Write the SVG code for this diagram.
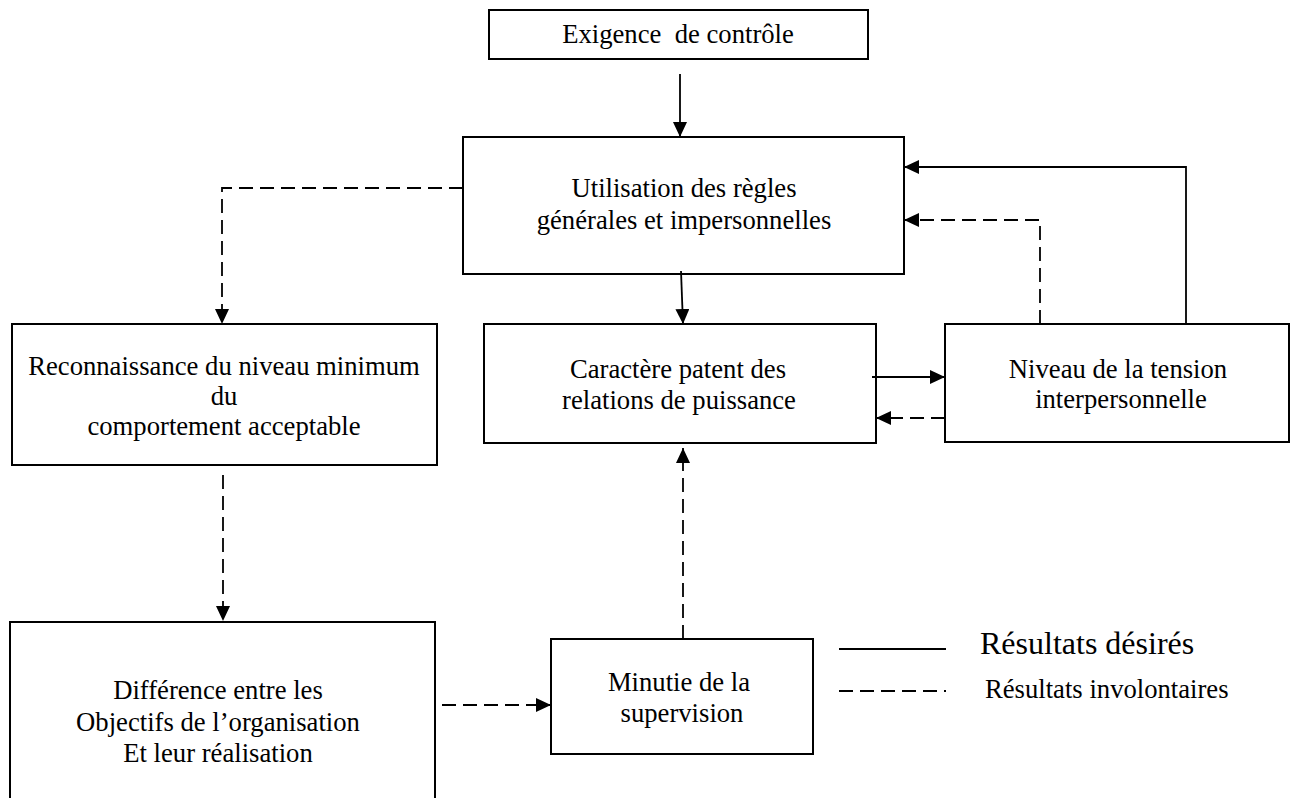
<svg xmlns="http://www.w3.org/2000/svg" width="1295" height="798" viewBox="0 0 1295 798">
<style>
.box{fill:#fff;stroke:#000;stroke-width:2}
.t{font-family:"Liberation Serif","Times New Roman",serif;font-size:26.67px;fill:#000;text-anchor:middle}
.lg{font-family:"Liberation Serif","Times New Roman",serif;fill:#000}
.s{fill:none;stroke:#000;stroke-width:1.8}
.d{fill:none;stroke:#000;stroke-width:1.8;stroke-dasharray:14 7}
</style>
<defs>
<marker id="arr" viewBox="0 0 15 14" refX="15" refY="7" markerWidth="15" markerHeight="14" orient="auto" markerUnits="userSpaceOnUse">
<path d="M0,0 L15,7 L0,14 z" fill="#000"/>
</marker>
</defs>
<rect width="1295" height="798" fill="#fff"/>
<g id="n-exigence">
<rect class="box" x="489" y="10" width="379" height="49"/>
<text class="t" x="678" y="43" xml:space="preserve">Exigence  de contrôle</text>
</g>
<g id="n-utilisation">
<rect class="box" x="463" y="137" width="441" height="137"/>
<text class="t" x="684" y="197">Utilisation des règles</text>
<text class="t" x="684" y="229">générales et impersonnelles</text>
</g>
<g id="n-caractere">
<rect class="box" x="484" y="324" width="392" height="119"/>
<text class="t" x="678" y="378">Caractère patent des</text>
<text class="t" x="679" y="409">relations de puissance</text>
</g>
<g id="n-niveau">
<rect class="box" x="945" y="324" width="344" height="118"/>
<text class="t" x="1118" y="378">Niveau de la tension</text>
<text class="t" x="1121" y="408">interpersonnelle</text>
</g>
<g id="n-reconnaissance">
<rect class="box" x="12" y="324" width="425" height="141"/>
<text class="t" x="224" y="375">Reconnaissance du niveau minimum</text>
<text class="t" x="224" y="405">du</text>
<text class="t" x="224" y="435">comportement acceptable</text>
</g>
<g id="n-difference">
<rect class="box" x="10" y="622" width="425" height="190"/>
<text class="t" x="218" y="699">Différence entre les</text>
<text class="t" x="218" y="731">Objectifs de l’organisation</text>
<text class="t" x="218" y="762">Et leur réalisation</text>
</g>
<g id="n-minutie">
<rect class="box" x="551" y="639" width="262" height="115"/>
<text class="t" x="679" y="691">Minutie de la</text>
<text class="t" x="682" y="722">supervision</text>
</g>
<g id="connectors">
<line class="s" x1="680" y1="74" x2="680" y2="137" marker-end="url(#arr)"/>
<line class="s" x1="681" y1="271" x2="683" y2="324" marker-end="url(#arr)"/>
<line class="s" x1="872" y1="377" x2="945" y2="377" marker-end="url(#arr)"/>
<line class="d" x1="945" y1="418" x2="876" y2="418" marker-end="url(#arr)"/>
<polyline class="s" points="1186,324 1186,167 904,167" marker-end="url(#arr)"/>
<polyline class="d" points="1040,324 1040,220 904,220" marker-end="url(#arr)"/>
<polyline class="d" points="463,188 222,188 222,324" marker-end="url(#arr)"/>
<line class="d" x1="223" y1="475" x2="223" y2="621" marker-end="url(#arr)"/>
<line class="d" x1="442" y1="705" x2="551" y2="705" marker-end="url(#arr)"/>
<line class="d" x1="683" y1="639" x2="683" y2="448" marker-end="url(#arr)"/>
</g>
<g id="legend">
<line class="s" x1="839" y1="649" x2="946" y2="649"/>
<line class="d" x1="839" y1="691" x2="946" y2="691"/>
<text class="lg" x="980" y="654" font-size="32">Résultats désirés</text>
<text class="lg" x="985" y="698" font-size="26.67">Résultats involontaires</text>
</g>
</svg>
